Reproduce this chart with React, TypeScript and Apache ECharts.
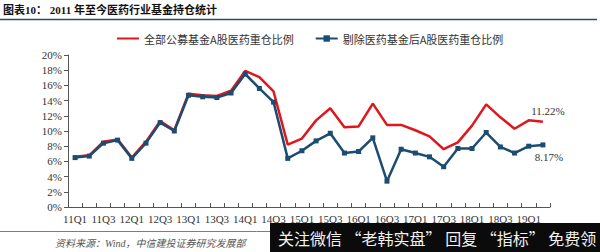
import React, { useEffect, useRef } from "react";
import * as echarts from "echarts";

const categories = [
  "11Q1", "11Q2", "11Q3", "11Q4",
  "12Q1", "12Q2", "12Q3", "12Q4",
  "13Q1", "13Q2", "13Q3", "13Q4",
  "14Q1", "14Q2", "14Q3", "14Q4",
  "15Q1", "15Q2", "15Q3", "15Q4",
  "16Q1", "16Q2", "16Q3", "16Q4",
  "17Q1", "17Q2", "17Q3", "17Q4",
  "18Q1", "18Q2", "18Q3", "18Q4",
  "19Q1", "19Q2",
];

const allFunds = [
  6.6, 6.8, 8.6, 8.9,
  6.5, 8.6, 11.3, 10.1,
  14.9, 14.7, 14.6, 15.3,
  17.9, 17.1, 15.2, 8.2,
  9.0, 11.4, 13.0, 10.5,
  10.6, 13.6, 10.8, 10.8,
  10.1, 9.3, 7.6, 8.5,
  10.7, 13.5, 11.8, 10.3,
  11.4, 11.22,
];

const exMedFunds = [
  6.5, 6.7, 8.4, 8.8,
  6.4, 8.4, 11.1, 10.0,
  14.7, 14.5, 14.4, 15.0,
  17.5, 15.6, 13.8, 6.4,
  7.4, 8.7, 9.7, 7.1,
  7.3, 9.1, 3.4, 7.6,
  7.1, 6.6, 5.3, 7.7,
  7.7, 9.8, 7.9, 7.1,
  8.0, 8.17,
];

const seriesNames = ["全部公募基金A股医药重仓比例", "剔除医药基金后A股医药重仓比例"];
const titleText = "图表10： 2011 年至今医药行业基金持仓统计";
const sourceText = "资料来源：Wind，中信建投证券研究发展部";
const overlayText = "关注微信 “老韩实盘” 回复 “指标” 免费领";

const RED = "#e0161d";
const BLUE = "#1c4c70";
const SERIF = "'Liberation Serif', 'Noto Sans CJK SC', serif";
const CJK = "'Noto Sans CJK SC', sans-serif";

export default function App() {
  const ref = useRef<HTMLDivElement>(null);

  useEffect(() => {
    if (!ref.current) return;
    const chart = echarts.init(ref.current, undefined, { renderer: "svg" });
    const lastIdx = categories.length - 1;
    chart.setOption({
      animation: false,
      backgroundColor: "#ffffff",
      grid: { left: 68, top: 55, width: 482, height: 152 },
      legend: {
        left: 112,
        top: 28,
        itemWidth: 22,
        itemHeight: 8,
        itemGap: 21,
        textStyle: { fontFamily: CJK, fontSize: 11, color: "#333" },
        data: [
          { name: seriesNames[0], icon: "path://M0,4L22,4L22,6L0,6Z" },
          { name: seriesNames[1] },
        ],
      },
      xAxis: {
        type: "category",
        data: categories,
        boundaryGap: true,
        axisLine: { lineStyle: { color: "#555", width: 1 } },
        axisTick: { show: true, inside: true, length: 4, interval: 0, lineStyle: { color: "#555" } },
        axisLabel: { interval: 1, fontFamily: SERIF, fontSize: 11, color: "#333", margin: 6 },
        splitLine: { show: false },
      },
      yAxis: {
        type: "value",
        min: 0,
        max: 20,
        interval: 2,
        axisLine: { show: true, lineStyle: { color: "#555", width: 1 } },
        axisTick: { show: true, length: 4, lineStyle: { color: "#555" } },
        axisLabel: { formatter: "{value}%", fontFamily: SERIF, fontSize: 11, color: "#333", margin: 6 },
        splitLine: { show: false },
      },
      series: [
        {
          name: seriesNames[0],
          type: "line",
          data: allFunds.map((v, i) =>
            i === lastIdx
              ? { value: v, label: { show: true, position: "top", offset: [5, 0], formatter: "11.22%" } }
              : v
          ),
          symbol: "circle",
          symbolSize: 0.1,
          showSymbol: true,
          lineStyle: { color: RED, width: 2.5 },
          itemStyle: { color: RED },
          label: { fontFamily: SERIF, fontSize: 11, color: "#333" },
        },
        {
          name: seriesNames[1],
          type: "line",
          data: exMedFunds.map((v, i) =>
            i === lastIdx
              ? { value: v, label: { show: true, position: "bottom", offset: [6, -1], formatter: "8.17%" } }
              : v
          ),
          symbol: "rect",
          symbolSize: 5,
          lineStyle: { color: BLUE, width: 2.5 },
          itemStyle: { color: BLUE },
          label: { fontFamily: SERIF, fontSize: 11, color: "#333" },
        },
      ],
      graphic: [
        {
          type: "text",
          left: 3,
          top: 4,
          style: { text: titleText, font: `bold 11px ${SERIF}`, fill: "#111" },
        },
        {
          type: "line",
          shape: { x1: 0, y1: 19.5, x2: 597, y2: 19.5 },
          style: { stroke: "#1d4f78", lineWidth: 1.5 },
        },
        {
          type: "line",
          shape: { x1: 0, y1: 231.5, x2: 600, y2: 231.5 },
          style: { stroke: "#5a86ad", lineWidth: 1 },
        },
        {
          type: "text",
          x: 55,
          y: 243,
          style: {
            text: sourceText,
            font: `italic 10px ${SERIF}`,
            fill: "#555",
            textVerticalAlign: "middle",
          },
        },
        {
          type: "rect",
          shape: { x: 270, y: 223, width: 330, height: 29 },
          style: { fill: "#0b0b0b" },
          z: 100,
        },
        {
          type: "text",
          x: 278,
          y: 238,
          z: 101,
          style: {
            text: overlayText,
            font: `16px ${CJK}`,
            fill: "#f2f2f2",
            textVerticalAlign: "middle",
          },
        },
      ],
    });
    return () => chart.dispose();
  }, []);

  return (
    <div
      ref={ref}
      style={{ position: "fixed", left: 0, top: 0, width: 600, height: 252 }}
    />
  );
}
